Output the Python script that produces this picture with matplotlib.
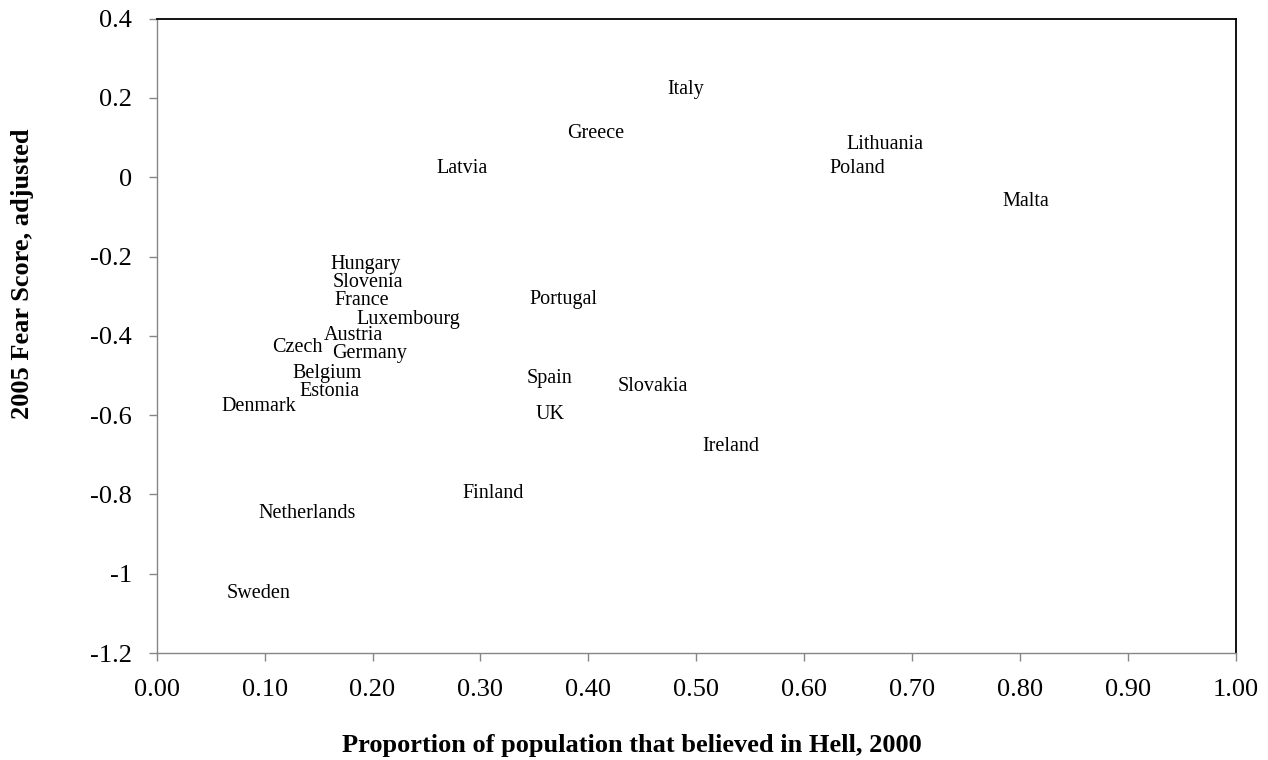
import matplotlib
matplotlib.use("Agg")
import matplotlib.pyplot as plt

countries = ["Italy", "Greece", "Latvia", "Lithuania", "Poland", "Malta",
             "Hungary", "Slovenia", "France", "Luxembourg", "Portugal",
             "Austria", "Czech", "Germany", "Belgium", "Estonia", "Denmark",
             "Spain", "Slovakia", "UK", "Ireland", "Finland", "Netherlands",
             "Sweden"]
hell_2000 = [0.490, 0.407, 0.283, 0.675, 0.649, 0.805,
             0.194, 0.196, 0.190, 0.233, 0.377,
             0.182, 0.130, 0.197, 0.158, 0.160, 0.095,
             0.364, 0.460, 0.364, 0.532, 0.312, 0.139,
             0.094]
fear_2005 = [0.228, 0.116, 0.027, 0.089, 0.027, -0.055,
             -0.214, -0.260, -0.306, -0.354, -0.302,
             -0.394, -0.425, -0.440, -0.489, -0.534, -0.573,
             -0.502, -0.522, -0.594, -0.674, -0.793, -0.843,
             -1.045]

x_ticks = [0.0, 0.1, 0.2, 0.3, 0.4, 0.5, 0.6, 0.7, 0.8, 0.9, 1.0]
x_tick_labels = ["0.00", "0.10", "0.20", "0.30", "0.40", "0.50",
                 "0.60", "0.70", "0.80", "0.90", "1.00"]
y_ticks = [0.4, 0.2, 0.0, -0.2, -0.4, -0.6, -0.8, -1.0, -1.2]
y_tick_labels = ["0.4", "0.2", "0", "-0.2", "-0.4", "-0.6", "-0.8", "-1", "-1.2"]

plt.rcParams['font.family'] = ['Liberation Serif', 'DejaVu Serif']

W, H = 1268, 760
fig = plt.figure(figsize=(W / 100, H / 100), dpi=100)
ax = fig.add_axes([156.7 / W, (H - 653) / H, (1236 - 156.7) / W, (653 - 18.7) / H])

ax.set_xlim(0, 1)
ax.set_ylim(-1.2, 0.4)

label_fs = 14.5
for name, xv, yv in zip(countries, hell_2000, fear_2005):
    ax.annotate(name, (xv, yv), xytext=(0, -0.331 * label_fs),
                textcoords='offset points', ha='center', va='baseline',
                fontsize=label_fs, color='black')

gray = '#868686'
ax.spines['left'].set_color(gray)
ax.spines['bottom'].set_color(gray)
ax.spines['left'].set_linewidth(1.0)
ax.spines['bottom'].set_linewidth(1.0)
ax.spines['top'].set_color('black')
ax.spines['right'].set_color('black')
ax.spines['top'].set_linewidth(1.3)
ax.spines['right'].set_linewidth(1.3)

ax.set_xticks(x_ticks)
ax.set_xticklabels(x_tick_labels)
ax.set_yticks(y_ticks)
ax.set_yticklabels(y_tick_labels)
ax.tick_params(axis='both', direction='out', length=5.8, width=1.0,
               color=gray, labelsize=19, labelcolor='black')
ax.tick_params(axis='y', pad=12)
ax.tick_params(axis='x', pad=13)

fig.text(632 / W, (H - 752) / H, "Proportion of population that believed in Hell, 2000",
         ha='center', va='baseline', fontsize=19, fontweight='bold')
fig.text(23 / W, (H - 274) / H, "2005 Fear Score, adjusted",
         ha='center', va='center', rotation=90, fontsize=19, fontweight='bold')

fig.savefig("out.png", dpi=100)
